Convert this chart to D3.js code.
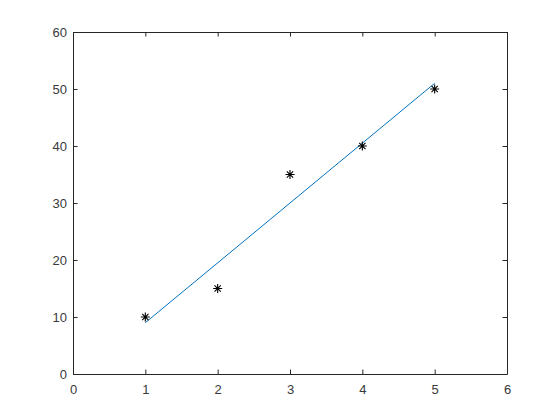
<!DOCTYPE html>
<html>
<head>
<meta charset="utf-8">
<script src="https://cdn.jsdelivr.net/npm/d3@7"></script>
<style>
  body { margin: 0; background: #fff; }
  svg { display: block; }
</style>
</head>
<body>
<svg id="chart"></svg>
<script>
const WIDTH = 560;
const HEIGHT = 420;

// measured points
const xs = [1, 2, 3, 4, 5];
const ys = [10, 15, 35, 40, 50];

// fitted line endpoints
const fitX = [1, 5];
const fitY = [9, 51];

const xTicks = [0, 1, 2, 3, 4, 5, 6];
const yTicks = [0, 10, 20, 30, 40, 50, 60];

const margin = { left: 73, top: 32, right: 53, bottom: 46 };

const svg = d3.select('#chart')
              .attr('width', WIDTH)
              .attr('height', HEIGHT);

const x = d3.scaleLinear().domain([0, 6]).range([margin.left, WIDTH - margin.right]);
const y = d3.scaleLinear().domain([0, 60]).range([HEIGHT - margin.bottom, margin.top]);

const TICK = 4.5;
const fmt = d3.format('d');

// axes (MATLAB style: ticks pointing in, box on)
const axColor = '#262626';

svg.append('g')
   .attr('transform', `translate(0,${y(0)})`)
   .call(d3.axisBottom(x).tickValues(xTicks).tickFormat(fmt).tickSize(-TICK).tickPadding(11).tickSizeOuter(0));

svg.append('g')
   .attr('transform', `translate(0,${y(60)})`)
   .call(d3.axisTop(x).tickValues(xTicks).tickSize(-TICK).tickFormat('').tickSizeOuter(0));

svg.append('g')
   .attr('transform', `translate(${x(0)},0)`)
   .call(d3.axisLeft(y).tickValues(yTicks).tickFormat(fmt).tickSize(-TICK).tickPadding(6).tickSizeOuter(0));

svg.append('g')
   .attr('transform', `translate(${x(6)},0)`)
   .call(d3.axisRight(y).tickValues(yTicks).tickSize(-TICK).tickFormat('').tickSizeOuter(0));

svg.selectAll('g')
   .attr('color', axColor)
   .attr('font-size', 13)
   .attr('font-family', '"Liberation Sans", Arial, sans-serif');
svg.selectAll('.tick text').attr('fill', '#3a3a3a');

// fit line
const line = d3.line().x(d => x(d[0])).y(d => y(d[1]));
svg.append('path')
   .datum(d3.zip(fitX, fitY))
   .attr('d', line)
   .attr('fill', 'none')
   .attr('stroke', '#0072BD')
   .attr('stroke-width', 1);

// asterisk markers
const R = 4.5;
const marks = svg.append('g')
   .selectAll('g')
   .data(d3.zip(xs, ys))
   .join('g')
   .attr('transform', d => `translate(${x(d[0])},${y(d[1])})`);

marks.append('path')
     .attr('d', `M${-R},0H${R}M0,${-R}V${R}M${-R*0.7},${-R*0.7}L${R*0.7},${R*0.7}M${-R*0.7},${R*0.7}L${R*0.7},${-R*0.7}`)
     .attr('stroke', '#000')
     .attr('stroke-width', 1.1)
     .attr('fill', 'none');
</script>
</body>
</html>
